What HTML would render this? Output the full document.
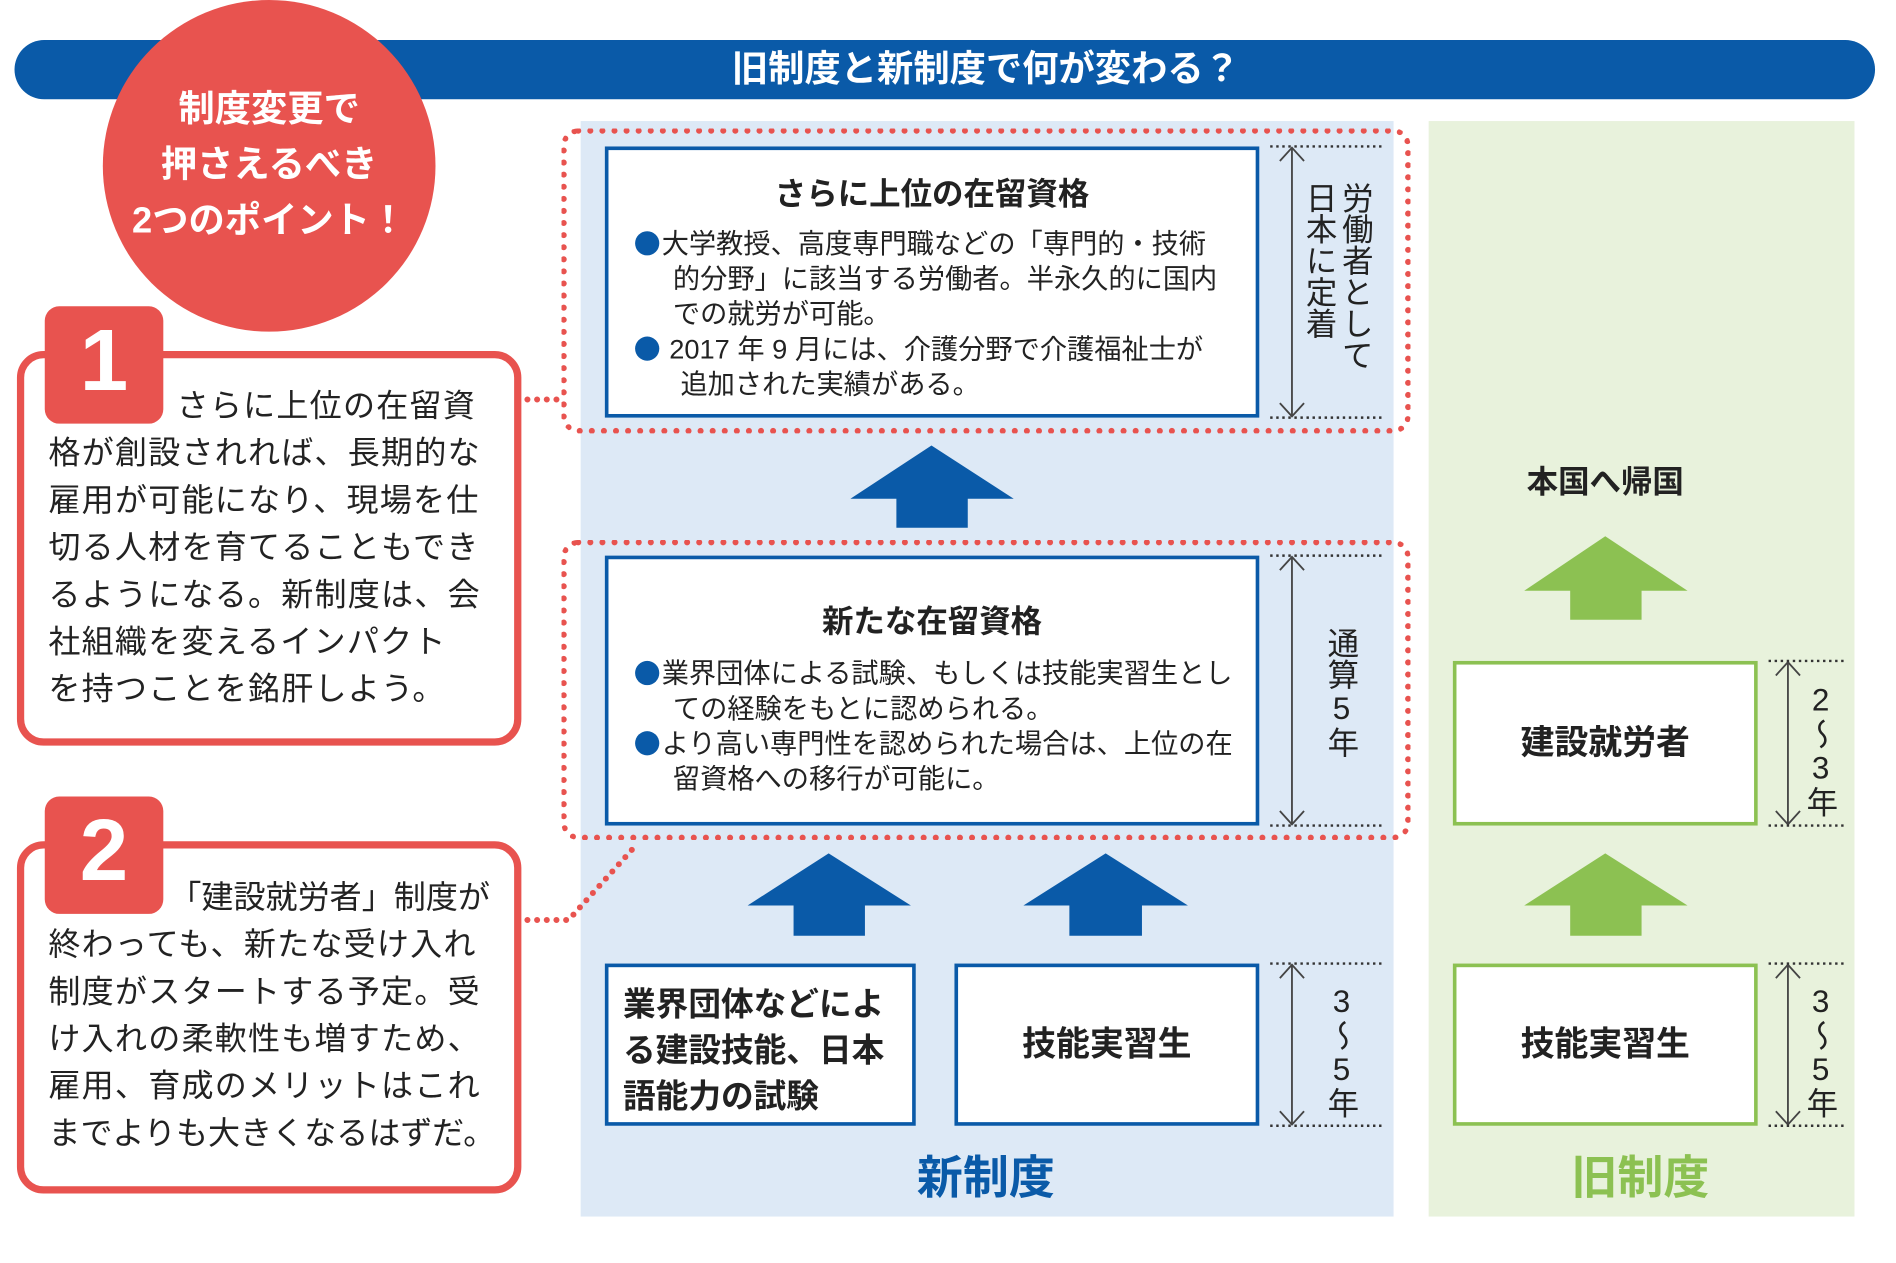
<!DOCTYPE html>
<html><head><meta charset="utf-8">
<style>
html,body{margin:0;padding:0;background:#fff;}
body{width:1896px;height:1263px;overflow:hidden;position:relative;font-family:"Liberation Sans","Noto Sans CJK JP",sans-serif;}
#s{position:absolute;left:0;top:0;width:1560px;height:1040px;transform:scale(1.2097,1.2105);transform-origin:0 0;}
.a{position:absolute;}
.wb{position:absolute;background:#fff;border:3px solid #0a5aa8;box-sizing:border-box;}
.gb{position:absolute;background:#fff;border:3px solid #8cc152;box-sizing:border-box;}
.dot{position:absolute;border:5px dotted #e8534f;border-radius:14px;box-sizing:border-box;}
.rb{position:absolute;border:6px solid #e8534f;border-radius:22px;background:#fff;box-sizing:border-box;}
.tab{position:absolute;background:#e8534f;border-radius:12px;color:#fff;font-weight:bold;font-size:72px;text-align:center;line-height:90px;}
.bt{position:absolute;font-size:26.5px;line-height:39px;color:#222;letter-spacing:1px;white-space:nowrap;}
.vt{position:absolute;writing-mode:vertical-rl;text-orientation:upright;font-size:26px;color:#222;line-height:30px;}
.bul{font-size:22.5px;line-height:29px;color:#222;white-space:nowrap;}
.bul span{color:#0a5aa8;font-size:22px;display:inline-block;width:20px;height:20px;border-radius:50%;background:#0a5aa8;vertical-align:-2px;margin-right:2px;}
.ttl{font-weight:bold;font-size:26px;text-align:center;color:#222;}
.big{font-weight:bold;font-size:28px;text-align:center;color:#222;}
</style></head><body>
<div id="s">
<div class="a" style="left:480px;top:100px;width:672px;height:905px;background:#dde9f6"></div>
<div class="a" style="left:1181px;top:100px;width:352px;height:905px;background:#e8f2dc"></div>
<div class="a" style="left:12px;top:33px;width:1538px;height:49px;background:#0a5aa8;border-radius:25px;color:#fff;font-weight:bold;font-size:30px;line-height:49px;text-align:center;"><span style="position:relative;left:34px">旧制度と新制度で何が変わる？</span></div>
<div class="a" style="left:85px;top:0px;width:275px;height:274px;border-radius:50%;background:#e8534f;color:#fff;font-weight:bold;font-size:30px;line-height:46px;text-align:center;box-sizing:border-box;padding-top:68px;">制度変更で<br>押さえるべき<br>2つのポイント！</div>

<div class="rb" style="left:14px;top:290px;width:417px;height:326px"></div>
<div class="tab" style="left:37px;top:253px;width:98px;height:97px">1</div>
<div class="bt" style="left:40px;top:316px;width:370px;"><span style="padding-left:106px">さらに上位の在留資</span><br>格が創設されれば、長期的な<br>雇用が可能になり、現場を仕<br>切る人材を育てることもでき<br>るようになる。新制度は、会<br>社組織を変えるインパクト<br>を持つことを銘肝しよう。</div>
<div class="rb" style="left:14px;top:695px;width:417px;height:291px"></div>
<div class="tab" style="left:37px;top:658px;width:98px;height:97px">2</div>
<div class="bt" style="left:40px;top:722px;width:370px;"><span style="padding-left:100px;letter-spacing:0">「建設就労者」制度が</span><br>終わっても、新たな受け入れ<br>制度がスタートする予定。受<br>け入れの柔軟性も増すため、<br>雇用、育成のメリットはこれ<br><span style="letter-spacing:0">までよりも大きくなるはずだ。</span></div>

<svg class="a" style="left:0;top:0" width="1560" height="1040">
<g stroke="#e8534f" stroke-width="5" stroke-linecap="round" stroke-dasharray="0 8" fill="none">
<line x1="436" y1="330" x2="466" y2="330"/>
<polyline points="436,760 470,760 526,698"/>
</g>
<g stroke="#444" stroke-width="1.5" fill="none">
<line x1="1068" y1="122" x2="1068" y2="344"/><polyline points="1058,133 1068,122 1078,133"/><polyline points="1058,333 1068,344 1078,333"/>
<line x1="1068" y1="460" x2="1068" y2="681"/><polyline points="1058,471 1068,460 1078,471"/><polyline points="1058,670 1068,681 1078,670"/>
<line x1="1068" y1="797" x2="1068" y2="929"/><polyline points="1058,808 1068,797 1078,808"/><polyline points="1058,918 1068,929 1078,918"/>
<line x1="1478" y1="547" x2="1478" y2="681"/><polyline points="1468,558 1478,547 1488,558"/><polyline points="1468,670 1478,681 1488,670"/>
<line x1="1478" y1="797" x2="1478" y2="929"/><polyline points="1468,808 1478,797 1488,808"/><polyline points="1468,918 1478,929 1488,918"/>
</g>
<g stroke="#333" stroke-width="2" stroke-dasharray="2 3">
<line x1="1050" y1="121" x2="1142" y2="121"/><line x1="1050" y1="345" x2="1142" y2="345"/>
<line x1="1050" y1="459" x2="1142" y2="459"/><line x1="1050" y1="682" x2="1142" y2="682"/>
<line x1="1050" y1="796" x2="1142" y2="796"/><line x1="1050" y1="930" x2="1142" y2="930"/>
<line x1="1462" y1="546" x2="1524" y2="546"/><line x1="1462" y1="682" x2="1524" y2="682"/>
<line x1="1462" y1="796" x2="1524" y2="796"/><line x1="1462" y1="930" x2="1524" y2="930"/>
</g>
<g fill="#0a5aa8">
<polygon points="703,412 770,368 838,412 800,412 800,436 741,436 741,412"/>
<polygon points="618,748 685,705 753,748 715,748 715,773 656,773 656,748"/>
<polygon points="846,748 914,705 982,748 944,748 944,773 884,773 884,748"/>
</g>
<g fill="#8cc152">
<polygon points="1260,488 1327,443 1395,488 1357,488 1357,512 1298,512 1298,488"/>
<polygon points="1260,748 1327,705 1395,748 1357,748 1357,773 1298,773 1298,748"/>
</g>
</svg>

<div class="dot" style="left:464px;top:106px;width:702px;height:252px"></div>
<div class="dot" style="left:464px;top:446px;width:702px;height:248px"></div>

<div class="wb" style="left:500px;top:121px;width:541px;height:224px">
<div class="ttl" style="margin-top:16px">さらに上位の在留資格</div>
<div class="bul" style="margin:10px 0 0 22px;width:500px;"><span></span>大学教授、高度専門職などの「専門的・技術<br>&nbsp;&nbsp;&nbsp;&nbsp;&nbsp;的分野」に該当する労働者。半永久的に国内<br>&nbsp;&nbsp;&nbsp;&nbsp;&nbsp;での就労が可能。<br><span></span> 2017 年 9 月には、介護分野で介護福祉士が<br>&nbsp;&nbsp;&nbsp;&nbsp;&nbsp;&nbsp;追加された実績がある。</div>
</div>
<div class="wb" style="left:500px;top:459px;width:541px;height:223px">
<div class="ttl" style="margin-top:31px">新たな在留資格</div>
<div class="bul" style="margin:12px 0 0 22px;width:500px;"><span></span>業界団体による試験、もしくは技能実習生とし<br>&nbsp;&nbsp;&nbsp;&nbsp;&nbsp;ての経験をもとに認められる。<br><span></span>より高い専門性を認められた場合は、上位の在<br>&nbsp;&nbsp;&nbsp;&nbsp;&nbsp;留資格への移行が可能に。</div>
</div>
<div class="wb" style="left:500px;top:796px;width:257px;height:134px;font-weight:bold;font-size:27px;line-height:38px;padding:12px 0 0 12px;color:#222">業界団体などによ<br>る建設技能、日本<br>語能力の試験</div>
<div class="wb big" style="left:789px;top:796px;width:252px;height:134px;line-height:128px">技能実習生</div>
<div class="gb big" style="left:1201px;top:546px;width:252px;height:136px;line-height:130px">建設就労者</div>
<div class="gb big" style="left:1201px;top:796px;width:252px;height:134px;line-height:128px">技能実習生</div>

<div class="vt" style="left:1076px;top:150px;">日本に定着</div>
<div class="vt" style="left:1106px;top:150px;">労働者として</div>
<div class="vt" style="left:1094px;top:518px;">通算5年</div>
<div class="vt" style="left:1094px;top:812px;">3〜5年</div>
<div class="vt" style="left:1490px;top:563px;">2〜3年</div>
<div class="vt" style="left:1490px;top:812px;">3〜5年</div>

<div class="a" style="left:1227px;top:378px;width:200px;text-align:center;font-weight:bold;font-size:26px;color:#222">本国へ帰国</div>
<div class="a" style="left:715px;top:942px;width:200px;text-align:center;font-weight:bold;font-size:38px;color:#0a5aa8">新制度</div>
<div class="a" style="left:1256px;top:942px;width:200px;text-align:center;font-weight:bold;font-size:38px;color:#8cc152">旧制度</div>
</div>
</body></html>
